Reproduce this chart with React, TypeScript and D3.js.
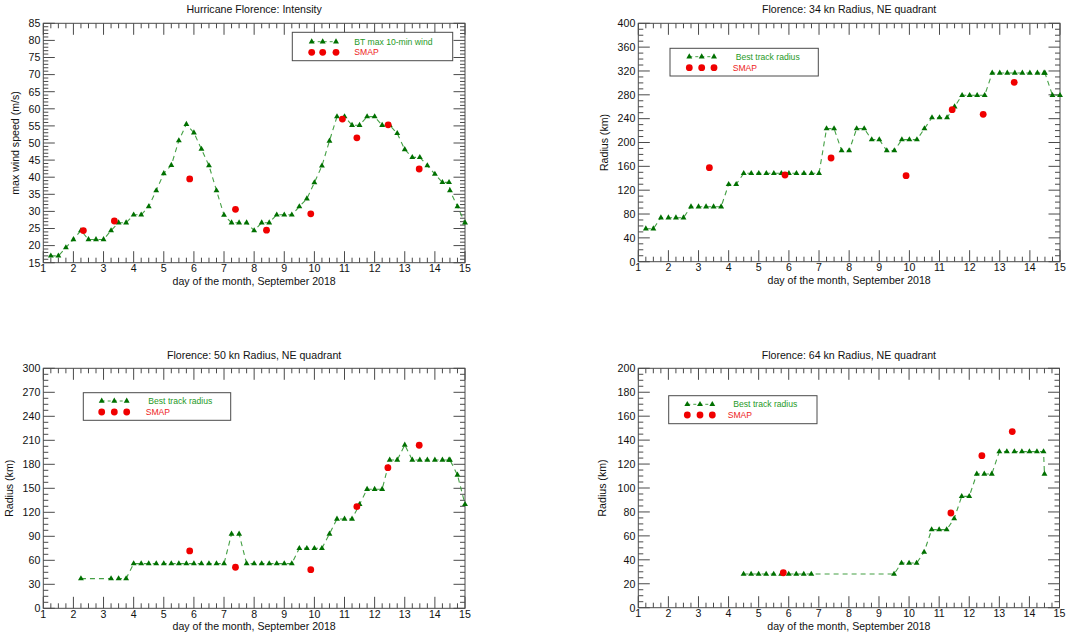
import React from "react";
import * as d3 from "d3";

// ---------------- DATA ----------------
const xTickDays = [1, 2, 3, 4, 5, 6, 7, 8, 9, 10, 11, 12, 13, 14, 15];

// Panel 1: intensity
const p1BtDays = [1.25, 1.5, 1.75, 2, 2.25, 2.5, 2.75, 3, 3.25, 3.5, 3.75, 4, 4.25, 4.5, 4.75, 5, 5.25, 5.5, 5.75, 6, 6.25, 6.5, 6.75, 7, 7.25, 7.5, 7.75, 8, 8.25, 8.5, 8.75, 9, 9.25, 9.5, 9.75, 10, 10.25, 10.5, 10.75, 11, 11.25, 11.5, 11.75, 12, 12.25, 12.5, 12.75, 13, 13.25, 13.5, 13.75, 14, 14.25, 14.47, 14.5, 14.75, 15];
const p1BtWind = [17.0, 17.0, 19.4, 21.8, 24.4, 21.8, 21.8, 21.8, 24.4, 26.7, 26.7, 29.0, 29.0, 31.4, 36.1, 41.1, 43.5, 50.7, 55.5, 53.0, 48.2, 43.4, 36.1, 28.9, 26.7, 26.7, 26.7, 24.4, 26.7, 26.7, 29.0, 29.0, 29.0, 31.4, 33.7, 38.4, 43.3, 50.6, 57.7, 57.7, 55.2, 55.2, 57.7, 57.7, 55.2, 55.2, 52.8, 48.1, 45.8, 45.8, 43.4, 40.9, 38.5, 38.5, 36.1, 31.4, 26.7];
const p1SmapDays = [2.33, 3.36, 5.86, 7.38, 8.41, 9.88, 10.93, 11.41, 12.45, 13.48];
const p1SmapWind = [24.4, 27.2, 39.5, 30.6, 24.5, 29.3, 57.0, 51.5, 55.3, 42.4];
const p1YTicks = [15, 20, 25, 30, 35, 40, 45, 50, 55, 60, 65, 70, 75, 80, 85];

// Panel 2: 34 kn radius
const p2BtDays = [1.25, 1.5, 1.75, 2, 2.25, 2.5, 2.75, 3, 3.25, 3.5, 3.75, 4, 4.25, 4.5, 4.75, 5, 5.25, 5.5, 5.75, 6, 6.25, 6.5, 6.75, 7, 7.25, 7.5, 7.75, 8, 8.25, 8.5, 8.75, 9, 9.25, 9.5, 9.75, 10, 10.25, 10.5, 10.75, 11, 11.25, 11.5, 11.75, 12, 12.25, 12.5, 12.75, 13, 13.25, 13.5, 13.75, 14, 14.25, 14.47, 14.5, 14.75, 15];
const p2BtRadius = [55.4, 55.4, 73.8, 73.8, 73.8, 73.8, 92.3, 92.3, 92.3, 92.3, 92.3, 129.8, 129.8, 148.3, 148.3, 148.3, 148.3, 148.3, 148.3, 148.3, 148.3, 148.3, 148.3, 148.3, 223.2, 223.2, 186.3, 186.3, 223.2, 223.2, 204.8, 204.8, 186.3, 186.3, 204.8, 204.8, 204.8, 223.2, 241.7, 241.7, 241.7, 260.1, 279.2, 279.2, 279.2, 279.2, 316.6, 316.6, 316.6, 316.6, 316.6, 316.6, 316.6, 316.6, 316.6, 279.2, 279.2];
const p2SmapDays = [3.36, 5.87, 7.4, 9.89, 11.42, 12.45, 13.48];
const p2SmapRadius = [157.8, 145.5, 174.0, 144.3, 255.1, 247.3, 301.0];
const p2YTicks = [0, 40, 80, 120, 160, 200, 240, 280, 320, 360, 400];

// Panel 3: 50 kn radius
const p3BtDays = [2.25, 3.25, 3.5, 3.75, 4, 4.25, 4.5, 4.75, 5, 5.25, 5.5, 5.75, 6, 6.25, 6.5, 6.75, 7, 7.25, 7.5, 7.75, 8, 8.25, 8.5, 8.75, 9, 9.25, 9.5, 9.75, 10, 10.25, 10.5, 10.75, 11, 11.25, 11.5, 11.75, 12, 12.25, 12.5, 12.75, 13, 13.25, 13.5, 13.75, 14, 14.25, 14.47, 14.5, 14.75, 15];
const p3BtRadius = [37.1, 37.1, 37.1, 37.1, 55.8, 55.8, 55.8, 55.8, 55.8, 55.8, 55.8, 55.8, 55.8, 55.8, 55.8, 55.8, 55.8, 92.9, 92.9, 55.8, 55.8, 55.8, 55.8, 55.8, 55.8, 55.8, 75.0, 75.0, 75.0, 75.0, 92.9, 111.7, 111.7, 111.7, 130.0, 148.8, 148.8, 148.8, 185.4, 185.4, 204.2, 185.4, 185.4, 185.4, 185.4, 185.4, 185.4, 185.4, 166.7, 130.0];
const p3SmapDays = [5.86, 7.38, 9.88, 11.41, 12.44, 13.48];
const p3SmapRadius = [71.7, 51.3, 48.3, 127.1, 175.8, 203.8];
const p3YTicks = [0, 30, 60, 90, 120, 150, 180, 210, 240, 270, 300];

// Panel 4: 64 kn radius
const p4BtDays = [4.5, 4.75, 5, 5.25, 5.5, 5.75, 6, 6.25, 6.5, 6.75, 9.5, 9.75, 10, 10.25, 10.5, 10.75, 11, 11.25, 11.5, 11.75, 12, 12.25, 12.5, 12.75, 13, 13.25, 13.5, 13.75, 14, 14.25, 14.47, 14.5];
const p4BtRadius = [28.1, 28.1, 28.1, 28.1, 28.1, 28.1, 28.1, 28.1, 28.1, 28.1, 28.1, 37.3, 37.3, 37.3, 46.5, 65.2, 65.2, 65.2, 74.4, 93.0, 93.0, 111.7, 111.7, 111.7, 130.4, 130.4, 130.4, 130.4, 130.4, 130.4, 130.4, 111.7];
const p4SmapDays = [5.82, 11.39, 12.42, 13.43];
const p4SmapRadius = [29.2, 79.1, 127.0, 147.1];
const p4YTicks = [0, 20, 40, 60, 80, 100, 120, 140, 160, 180, 200];

const titles = [
  "Hurricane Florence: Intensity",
  "Florence: 34 kn Radius, NE quadrant",
  "Florence: 50 kn Radius, NE quadrant",
  "Florence: 64 kn Radius, NE quadrant",
];
const yLabels = ["max wind speed (m/s)", "Radius (km)", "Radius (km)", "Radius (km)"];
const btLegendLabels = ["BT max 10-min wind", "Best track radius", "Best track radius", "Best track radius"];
const smapLabel = "SMAP";
const xLabel = "day of the month, September 2018";

// ---------------- STYLE / LAYOUT ----------------
const FONT = "'Liberation Sans', Arial, Helvetica, sans-serif";
const AXIS = "#4a4a4a";
const TRI_FILL = "#007000";
const LINE_COLOR = "#45a045";
const RED = "#f00000";
const LEG_GREEN = "#1f9a1f";
const LEG_RED = "#ee1c1c";

type Layout = {
  x0: number; x1: number; y0: number; y1: number;
  titleY: number; yLabelX: number; minorStep: number;
  leg: { x: number; y: number; w: number; h: number; mx: number[]; r1: number; r2: number; tx1: number; tx2: number };
};

const layouts: Layout[] = [
  { x0: 43.3, x1: 465, y0: 23.3, y1: 262.7, titleY: 12.5, yLabelX: 15.3, minorStep: 1,
    leg: { x: 292.3, y: 32.3, w: 160.4, h: 28.4, mx: [311.7, 322.7, 336], r1: 41.7, r2: 52.3, tx1: 354.3, tx2: 354.3 } },
  { x0: 638.3, x1: 1060, y0: 23.3, y1: 261.7, titleY: 12.5, yLabelX: 603.7, minorStep: 10,
    leg: { x: 670, y: 48.3, w: 148.3, h: 27.7, mx: [689.3, 701.7, 714], r1: 56.7, r2: 67.7, tx1: 735.7, tx2: 732.7 } },
  { x0: 43.3, x1: 465, y0: 368.3, y1: 608.3, titleY: 359, yLabelX: 9, minorStep: 7.5,
    leg: { x: 83.3, y: 392.7, w: 147.4, h: 27.6, mx: [101.7, 114.3, 126.7], r1: 401, r2: 412, tx1: 148.3, tx2: 145.7 } },
  { x0: 638.3, x1: 1059.5, y0: 368.3, y1: 607.7, titleY: 359, yLabelX: 602.3, minorStep: 5,
    leg: { x: 668.7, y: 395.7, w: 148.3, h: 28, mx: [687.3, 700, 712.3], r1: 404.3, r2: 415, tx1: 733.3, tx2: 727.7 } },
];

const triPath = d3.symbol(d3.symbolTriangle, 15)() as string;

type PanelProps = {
  L: Layout; title: string; yLabel: string; legLabel: string;
  btDays: number[]; btVals: number[]; smDays: number[]; smVals: number[]; yTicks: number[];
};

function Panel({ L, title, yLabel, legLabel, btDays, btVals, smDays, smVals, yTicks }: PanelProps) {
  const x = d3.scaleLinear().domain([xTickDays[0], xTickDays[xTickDays.length - 1]]).range([L.x0, L.x1]);
  const yDom = [yTicks[0], yTicks[yTicks.length - 1]];
  const y = d3.scaleLinear().domain(yDom).range([L.y1, L.y0]);
  const xMinor = d3.range(xTickDays[0], xTickDays[xTickDays.length - 1] + 0.001, 0.25).filter((v) => Math.abs(v - Math.round(v)) > 1e-6);
  const yMinor = d3.range(yDom[0], yDom[1] + 0.001, L.minorStep).filter((v) => !yTicks.some((t) => Math.abs(t - v) < 1e-6));
  const MAJ = 11.5, MIN = 5;
  const pts = btDays.map((d, i) => [d, btVals[i]] as [number, number]);
  const line = d3.line<[number, number]>().x((p) => x(p[0])).y((p) => y(p[1]));
  const cy = (L.y0 + L.y1) / 2;
  const cx = (L.x0 + L.x1) / 2;
  const lg = L.leg;
  return (
    <g>
      <text x={cx} y={L.titleY} textAnchor="middle" fontSize={10.6} fill="#111">{title}</text>
      {/* bottom & top ticks */}
      {xTickDays.map((t) => (
        <g key={"xm" + t}>
          <line x1={x(t)} x2={x(t)} y1={L.y1} y2={L.y1 - MAJ} stroke={AXIS} />
          <line x1={x(t)} x2={x(t)} y1={L.y0} y2={L.y0 + MAJ} stroke={AXIS} />
          <text x={x(t)} y={L.y1 + 9.3} textAnchor="middle" fontSize={10.6} fill="#111">{t}</text>
        </g>
      ))}
      {xMinor.map((t) => (
        <g key={"xn" + t}>
          <line x1={x(t)} x2={x(t)} y1={L.y1} y2={L.y1 - MIN} stroke={AXIS} />
          <line x1={x(t)} x2={x(t)} y1={L.y0} y2={L.y0 + MIN} stroke={AXIS} />
        </g>
      ))}
      {yTicks.map((t) => (
        <g key={"ym" + t}>
          <line x1={L.x0} x2={L.x0 + MAJ} y1={y(t)} y2={y(t)} stroke={AXIS} />
          <line x1={L.x1} x2={L.x1 - MAJ} y1={y(t)} y2={y(t)} stroke={AXIS} />
          <text x={L.x0 - 3} y={y(t)} dy="0.36em" textAnchor="end" fontSize={10.6} fill="#111">{t}</text>
        </g>
      ))}
      {yMinor.map((t) => (
        <g key={"yn" + t}>
          <line x1={L.x0} x2={L.x0 + MIN} y1={y(t)} y2={y(t)} stroke={AXIS} />
          <line x1={L.x1} x2={L.x1 - MIN} y1={y(t)} y2={y(t)} stroke={AXIS} />
        </g>
      ))}
      <rect x={L.x0} y={L.y0} width={L.x1 - L.x0} height={L.y1 - L.y0} fill="none" stroke={AXIS} />
      <text x={cx} y={L.y1 + 22} textAnchor="middle" fontSize={10.6} fill="#111">{xLabel}</text>
      <text transform={`translate(${L.yLabelX},${cy}) rotate(-90)`} dy="0.36em" textAnchor="middle" fontSize={10.6} fill="#111">{yLabel}</text>

      {/* data */}
      <path d={line(pts) || ""} fill="none" stroke={LINE_COLOR} strokeWidth={1.1} strokeDasharray="5,4" />
      {pts.map((p, i) => (
        <path key={"t" + i} d={triPath} transform={`translate(${x(p[0])},${y(p[1])})`} fill={TRI_FILL} />
      ))}
      {smDays.map((d, i) => (
        <circle key={"s" + i} cx={x(d)} cy={y(smVals[i])} r={3.4} fill={RED} />
      ))}

      {/* legend */}
      <rect x={lg.x} y={lg.y} width={lg.w} height={lg.h} fill="#fff" stroke={AXIS} />
      <line x1={lg.mx[0]} x2={lg.mx[2]} y1={lg.r1} y2={lg.r1} stroke={LINE_COLOR} strokeDasharray="3,3" />
      {lg.mx.map((mx, i) => (
        <path key={"lt" + i} d={triPath} transform={`translate(${mx},${lg.r1})`} fill={TRI_FILL} />
      ))}
      {lg.mx.map((mx, i) => (
        <circle key={"lc" + i} cx={mx} cy={lg.r2} r={3.4} fill={RED} />
      ))}
      <text x={lg.tx1} y={lg.r1} dy="0.36em" fontSize={8.6} fill={LEG_GREEN}>{legLabel}</text>
      <text x={lg.tx2} y={lg.r2} dy="0.36em" fontSize={8.6} fill={LEG_RED}>{smapLabel}</text>
    </g>
  );
}

export default function App() {
  const data = [
    { bd: p1BtDays, bv: p1BtWind, sd: p1SmapDays, sv: p1SmapWind, yt: p1YTicks },
    { bd: p2BtDays, bv: p2BtRadius, sd: p2SmapDays, sv: p2SmapRadius, yt: p2YTicks },
    { bd: p3BtDays, bv: p3BtRadius, sd: p3SmapDays, sv: p3SmapRadius, yt: p3YTicks },
    { bd: p4BtDays, bv: p4BtRadius, sd: p4SmapDays, sv: p4SmapRadius, yt: p4YTicks },
  ];
  return (
    <svg
      width={1068}
      height={636}
      viewBox="0 0 1068 636"
      style={{ position: "absolute", left: 0, top: 0, background: "#fff", fontFamily: FONT }}
    >
      <rect width={1068} height={636} fill="#fff" />
      {data.map((dd, i) => (
        <Panel
          key={i}
          L={layouts[i]}
          title={titles[i]}
          yLabel={yLabels[i]}
          legLabel={btLegendLabels[i]}
          btDays={dd.bd}
          btVals={dd.bv}
          smDays={dd.sd}
          smVals={dd.sv}
          yTicks={dd.yt}
        />
      ))}
    </svg>
  );
}
